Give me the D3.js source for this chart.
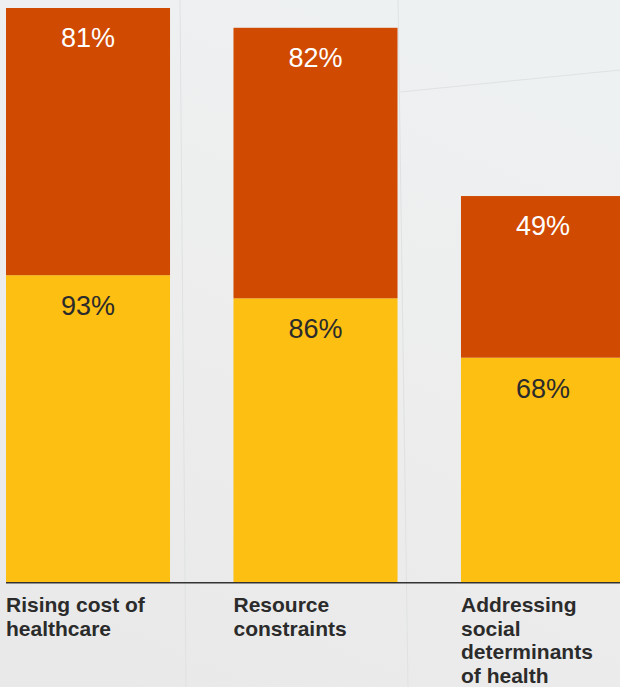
<!DOCTYPE html>
<html>
<head>
<meta charset="utf-8">
<script src="https://cdn.jsdelivr.net/npm/d3@7"></script>
<style>
  html, body { margin: 0; padding: 0; overflow: hidden; }
  body { width: 620px; height: 687px; }
</style>
</head>
<body>
<div id="chart"></div>
<script>
// категорії та значення
var categories = ["Rising cost of healthcare", "Resource constraints", "Addressing social determinants of health"];
var labelLines = [["Rising cost of", "healthcare"], ["Resource", "constraints"], ["Addressing", "social", "determinants", "of health"]];
var bottomValues = [93, 86, 68];   // жовтий
var topValues = [81, 82, 49];      // помаранчевий

var width = 620, height = 687;
var baseY = 582, topY = 8;
var font = "'Liberation Sans', Arial, Helvetica, sans-serif";

var svg = d3.select("#chart").append("svg")
    .attr("width", width)
    .attr("height", height);

// фон - світло-сірий, як на фото
var defs = svg.append("defs");
var grad = defs.append("linearGradient")
    .attr("id", "bg").attr("x1", "0.6").attr("y1", "0").attr("x2", "0.2").attr("y2", "1");
grad.append("stop").attr("offset", "0%").attr("stop-color", "#eef1f2");
grad.append("stop").attr("offset", "50%").attr("stop-color", "#ededed");
grad.append("stop").attr("offset", "100%").attr("stop-color", "#e9e9e9");

svg.append("rect")
    .attr("width", width).attr("height", height)
    .attr("fill", "url(#bg)");

// ледь помітні шви текстури
svg.append("g").selectAll("line")
    .data([[398, 0, 408, 687], [400, 92, 620, 70], [180, 0, 186, 687]])
    .enter().append("line")
    .attr("x1", function(d) { return d[0] })
    .attr("y1", function(d) { return d[1] })
    .attr("x2", function(d) { return d[2] })
    .attr("y2", function(d) { return d[3] })
    .attr("stroke", "#dfe1e2")
    .attr("stroke-width", 1);

var data = categories.map(function(c, i) {
    return {name: c, bottom: bottomValues[i], top: topValues[i], lines: labelLines[i]};
});

var x = d3.scaleBand()
    .domain(categories)
    .range([6, 625])
    .paddingInner(0.279)
    .paddingOuter(0);

var y = d3.scaleLinear()
    .domain([0, d3.max(data, function(d) { return d.bottom + d.top })])
    .range([baseY, topY]);

var bars = svg.append("g").selectAll("g")
    .data(data)
    .enter().append("g")
    .attr("transform", function(d) { return "translate(" + x(d.name) + ",0)" });

bars.append("rect")
    .attr("y", function(d) { return y(d.bottom) })
    .attr("width", x.bandwidth())
    .attr("height", function(d) { return baseY - y(d.bottom) })
    .attr("fill", "#fdbf12");

bars.append("rect")
    .attr("y", function(d) { return y(d.bottom + d.top) })
    .attr("width", x.bandwidth())
    .attr("height", function(d) { return y(d.bottom) - y(d.bottom + d.top) })
    .attr("fill", "#d04a02");

bars.append("text")
    .attr("x", x.bandwidth() / 2)
    .attr("y", function(d) { return y(d.bottom + d.top) + 39 })
    .attr("text-anchor", "middle")
    .style("font-family", font)
    .style("font-size", "27px")
    .style("fill", "#ffffff")
    .text(function(d) { return d.top + "%" });

bars.append("text")
    .attr("x", x.bandwidth() / 2)
    .attr("y", function(d) { return y(d.bottom) + 40 })
    .attr("text-anchor", "middle")
    .style("font-family", font)
    .style("font-size", "27px")
    .style("fill", "#2b2b2b")
    .text(function(d) { return d.bottom + "%" });

// підписи категорій
bars.append("text")
    .style("font-family", font)
    .style("font-size", "21px")
    .style("font-weight", "bold")
    .style("fill", "#2b2b2b")
    .selectAll("tspan")
    .data(function(d) { return d.lines })
    .enter().append("tspan")
    .attr("x", 0)
    .attr("y", function(d, i) { return 612 + i * 23.7 })
    .text(function(d) { return d });

// базова лінія
svg.append("line")
    .attr("x1", x.range()[0]).attr("x2", width)
    .attr("y1", baseY + 0.75).attr("y2", baseY + 0.75)
    .attr("stroke", "#333333")
    .attr("stroke-width", 1.5);
</script>
</body>
</html>
